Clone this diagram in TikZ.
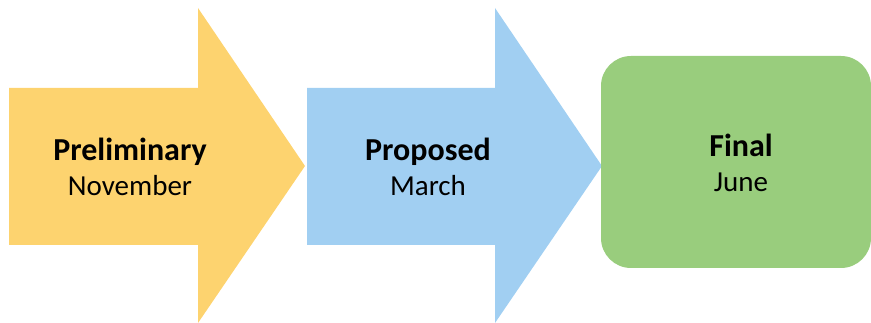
\documentclass[tikz,border=0pt]{standalone}
\usepackage{fontspec}
\setmainfont{Carlito}
\definecolor{gelb}{HTML}{FDD36F}
\definecolor{blau}{HTML}{A1CFF2}
\definecolor{gruen}{HTML}{99CD7D}
\newcommand{\titel}[1]{{\fontsize{32}{35}\selectfont\bfseries #1}}
\begin{document}
\begin{tikzpicture}[x=1pt,y=-1pt,line join=round,
	beschr/.style={align=center,font=\fontsize{29}{35}\selectfont},
	endkasten/.style={fill=gruen,rounded corners=30pt,minimum width=270pt,minimum height=212pt,inner sep=0pt}]
	\useasboundingbox (0,0) rectangle (871,323);
	% Pfeil 1 und Pfeil 2
	\fill[gelb] (9,88)--(198,88)--(198,8)--(305,166)--(198,323)--(198,245)--(9,245)--cycle;
	\fill[blau] (307,88)--(495,88)--(495,8)--(602,166)--(495,323)--(495,245)--(307,245)--cycle;
	% Kasten am Ende
	\node[endkasten] (final) at (736,162) {};
	% Beschriftungen
	\node[beschr] (prelim) at (130,167) {\titel{Preliminary}\\November};
	\node[beschr] (proposed) at (428,167) {\titel{Proposed}\\March};
	\node[beschr] (finaltext) at (741,163) {\titel{Final}\\June};
\end{tikzpicture}
\end{document}
